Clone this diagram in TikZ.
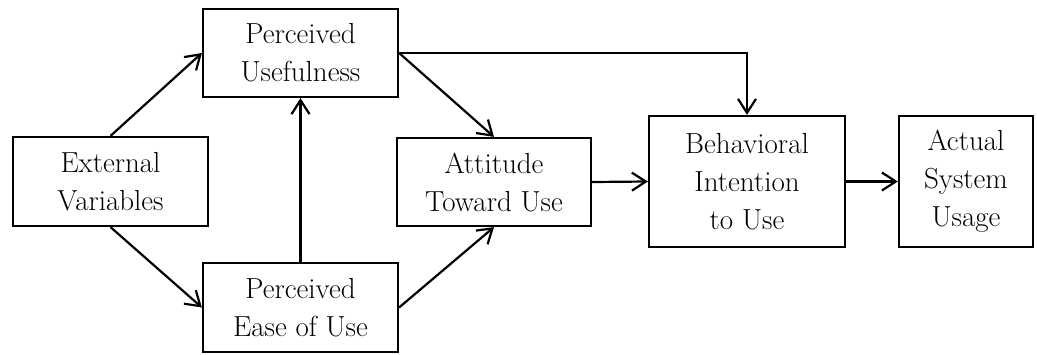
\documentclass[tikz,border=0pt]{standalone}
\usetikzlibrary{arrows.meta}
\begin{document}
\begin{tikzpicture}[x=1pt,y=-1pt,
  box/.style={draw, line width=2.2pt, inner sep=0pt, align=center,
    font=\fontsize{29}{38}\selectfont},
  arr/.style={line width=2.2pt, -{Straight Barb[length=14pt,width=18pt]}}]
\useasboundingbox (0,0) rectangle (1037,354);
\node[box, minimum width=195pt, minimum height=89pt] (ext) at (110.5,181.5) {External\\Variables};
\node[box, minimum width=195pt, minimum height=88pt] (pu) at (300.5,53) {Perceived\\Usefulness};
\node[box, minimum width=195pt, minimum height=89pt] (peou) at (300.5,307.5) {Perceived\\Ease of Use};
\node[box, minimum width=194pt, minimum height=88pt] (att) at (494,182) {Attitude\\Toward Use};
\node[box, minimum width=196pt, minimum height=131pt] (bi) at (747,181.5) {Behavioral\\Intention\\to Use};
\node[box, minimum width=134pt, minimum height=131pt] (asu) at (966,181.5) {Actual\\System\\Usage};
\draw[arr] (ext.north) -- (pu.west);
\draw[arr] (ext.south) -- (peou.west);
\draw[arr] (peou.north) -- (pu.south);
\draw[arr] (pu.east) -- (att.north);
\draw[arr] (peou.east) -- (att.south);
\draw[arr] (pu.east) -| (bi.north);
\draw[arr] (att.east) -- (bi.west);
\draw[arr] (bi.east) -- (asu.west);
\end{tikzpicture}
\end{document}
